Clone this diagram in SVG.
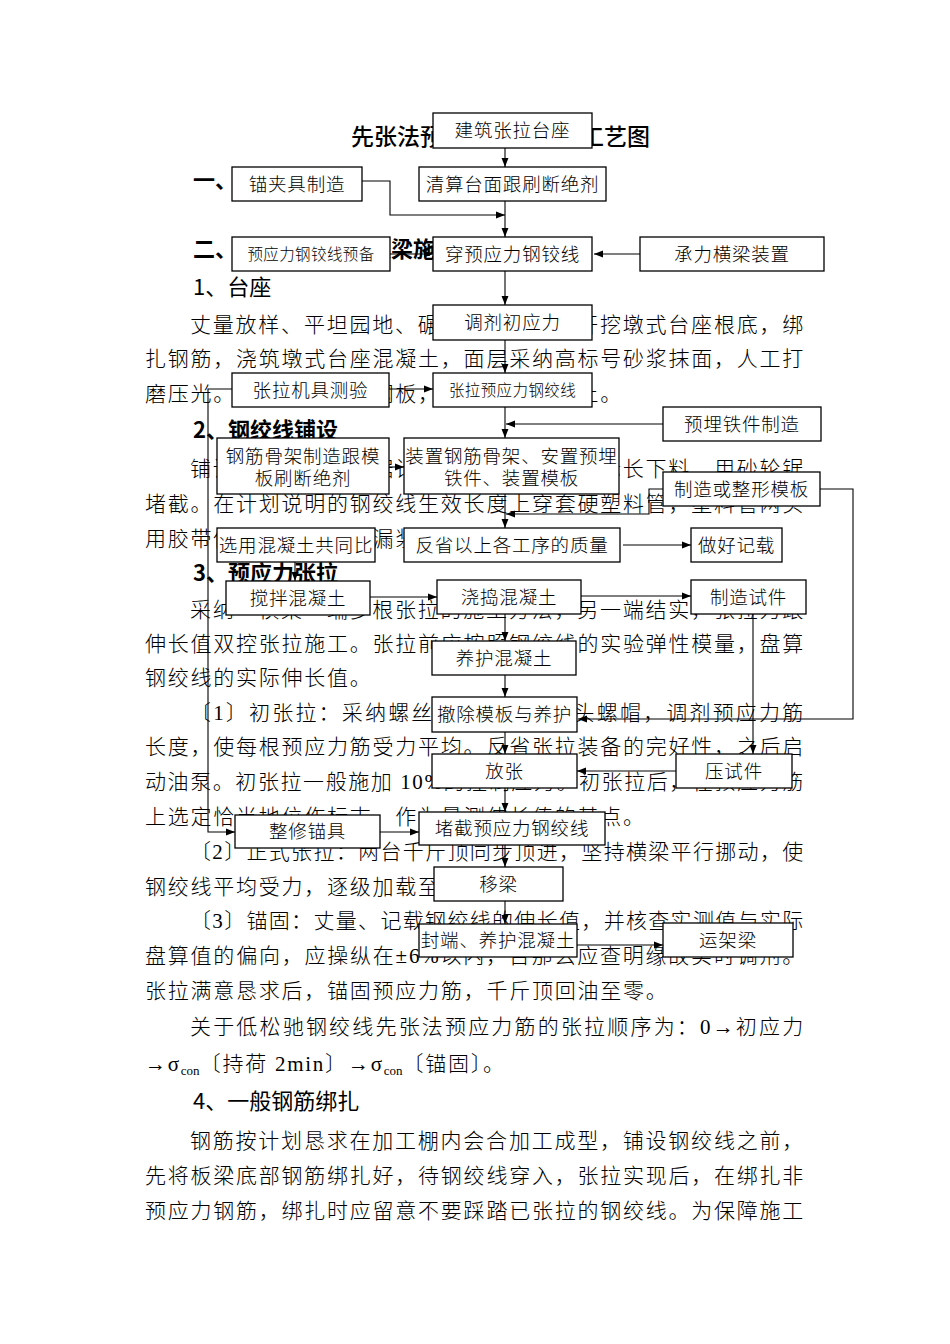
<svg xmlns="http://www.w3.org/2000/svg" width="950" height="1344" viewBox="0 0 950 1344">
<style>
.bg{fill:#fff}
.t{font-family:"Liberation Serif","Noto Sans CJK SC",serif;font-size:21px;letter-spacing:1.76px;fill:#000;font-weight:300}
.h{font-family:"Noto Sans CJK SC","Liberation Sans",sans-serif;font-size:22px;fill:#000;font-weight:bold}
.h1{font-family:"Noto Sans CJK SC","Liberation Sans",sans-serif;font-size:22px;fill:#000;font-weight:normal}
.title{font-family:"Noto Sans CJK SC","Liberation Sans",sans-serif;font-size:23px;fill:#000;font-weight:500}
.box rect{fill:#fff;stroke:#000;stroke-width:1.3}
.box text{font-family:"Liberation Serif","Noto Sans CJK SC",serif;font-size:18.5px;letter-spacing:0.8px;fill:#000;text-anchor:middle;font-weight:300}
.box text.sm{font-size:15.5px;letter-spacing:0.4px}
.c path{fill:none;stroke:#000;stroke-width:1.1}
</style>
<defs>
<marker id="ah" viewBox="0 0 10 10" refX="10" refY="5" markerWidth="9" markerHeight="9" markerUnits="userSpaceOnUse" orient="auto"><path d="M0,1.2 L10,5 L0,8.8 z" fill="#000"/></marker>
</defs>
<rect class="bg" x="0" y="0" width="950" height="1344"/>

<g id="page-text">
<text class="title" x="351" y="145">先张法预应力板梁施工工艺图</text>
<text class="h" x="193" y="188">一、工艺图</text>
<text class="h" x="193" y="257">二、先张法预应力板梁施工</text>
<text class="h1" x="193" y="295">1、台座</text>
<text class="t" x="190" y="332" textLength="615" lengthAdjust="spacing">丈量放样、平坦园地、碾压坚实，然后开挖墩式台座根底，绑</text>
<text class="t" x="145" y="366" textLength="660" lengthAdjust="spacing">扎钢筋，浇筑墩式台座混凝土，面层采纳高标号砂浆抹面，人工打</text>
<text class="t" x="145" y="401">磨压光。台座两端预埋钢板，台面浇筑混凝土。</text>
<text class="h" x="193" y="438">2、钢绞线铺设</text>
<text class="t" x="190" y="476" textLength="615" lengthAdjust="spacing">铺设钢绞线前，依据计划说明的长度按实际长下料，用砂轮锯</text>
<text class="t" x="145" y="511" textLength="660" lengthAdjust="spacing">堵截。在计划说明的钢绞线生效长度上穿套硬塑料管，塑料管两头</text>
<text class="t" x="145" y="546">用胶带做好密封，防止漏浆。</text>
<text class="h" x="193" y="581">3、预应力张拉</text>
<text class="t" x="190" y="617" textLength="615" lengthAdjust="spacing">采纳一横梁一端多根张拉的施工方法，另一端结实，张拉力跟</text>
<text class="t" x="145" y="651" textLength="660" lengthAdjust="spacing">伸长值双控张拉施工。张拉前应按照钢绞线的实验弹性模量，盘算</text>
<text class="t" x="145" y="685">钢绞线的实际伸长值。</text>
<text class="t" x="190" y="720" textLength="615" lengthAdjust="spacing">〔1〕初张拉：采纳螺丝杆拧紧锚具端头螺帽，调剂预应力筋</text>
<text class="t" x="145" y="754" textLength="660" lengthAdjust="spacing">长度，使每根预应力筋受力平均。反省张拉装备的完好性，之后启</text>
<text class="t" x="145" y="789" textLength="660" lengthAdjust="spacing">动油泵。初张拉一般施加 10%的控制应力。初张拉后，在预应力筋</text>
<text class="t" x="145" y="824">上选定恰当地位作标志，作为量测伸长值的基点。</text>
<text class="t" x="190" y="859" textLength="615" lengthAdjust="spacing">〔2〕正式张拉：两台千斤顶同步顶进，坚持横梁平行挪动，使</text>
<text class="t" x="145" y="894">钢绞线平均受力，逐级加载至控制应力。</text>
<text class="t" x="190" y="928" textLength="615" lengthAdjust="spacing">〔3〕锚固：丈量、记载钢绞线的伸长值，并核查实测值与实际</text>
<text class="t" x="145" y="963" textLength="660" lengthAdjust="spacing">盘算值的偏向，应操纵在±6%以内，否那么应查明缘故实时调剂。</text>
<text class="t" x="145" y="998">张拉满意恳求后，锚固预应力筋，千斤顶回油至零。</text>
<text class="t" x="190" y="1034" textLength="615" lengthAdjust="spacing">关于低松驰钢绞线先张法预应力筋的张拉顺序为：0→初应力</text>
<text class="t" x="145" y="1071">→σ<tspan font-size="13" dy="4" letter-spacing="0">con</tspan><tspan dy="-4">〔持荷 2min〕→σ</tspan><tspan font-size="13" dy="4" letter-spacing="0">con</tspan><tspan dy="-4">〔锚固〕。</tspan></text>
<text class="h1" x="193" y="1109">4、一般钢筋绑扎</text>
<text class="t" x="190" y="1148" textLength="615" lengthAdjust="spacing">钢筋按计划恳求在加工棚内会合加工成型，铺设钢绞线之前，</text>
<text class="t" x="145" y="1183" textLength="660" lengthAdjust="spacing">先将板梁底部钢筋绑扎好，待钢绞线穿入，张拉实现后，在绑扎非</text>
<text class="t" x="145" y="1218" textLength="660" lengthAdjust="spacing">预应力钢筋，绑扎时应留意不要踩踏已张拉的钢绞线。为保障施工</text>
</g>

<g id="connectors" class="c">
<path d="M505,148 V167" marker-end="url(#ah)"/>
<path d="M505,201 V237" marker-end="url(#ah)"/>
<path d="M362,181 H390 V215 H505" marker-end="url(#ah)"/>
<path d="M390,254 H433" marker-end="url(#ah)"/>
<path d="M640,254 H594" marker-end="url(#ah)"/>
<path d="M505,271 V305" marker-end="url(#ah)"/>
<path d="M505,340 V373" marker-end="url(#ah)"/>
<path d="M389,389 H433" marker-end="url(#ah)"/>
<path d="M232,389 H208 V832 H235" marker-end="url(#ah)"/>
<path d="M505,407 V438" marker-end="url(#ah)"/>
<path d="M663,424 H506" marker-end="url(#ah)"/>
<path d="M389,467 H404" marker-end="url(#ah)"/>
<path d="M505,494 V528" marker-end="url(#ah)"/>
<path d="M663,489 H649 V514 H506" marker-end="url(#ah)"/>
<path d="M820,489 H853 V719 H578" marker-end="url(#ah)"/>
<path d="M623,545 H691" marker-end="url(#ah)"/>
<path d="M295,562 V581" marker-end="url(#ah)"/>
<path d="M370,597 H437" marker-end="url(#ah)"/>
<path d="M581,596 H691" marker-end="url(#ah)"/>
<path d="M505,613 V641" marker-end="url(#ah)"/>
<path d="M505,675 V697" marker-end="url(#ah)"/>
<path d="M505,732 V754" marker-end="url(#ah)"/>
<path d="M753,614 V754" marker-end="url(#ah)"/>
<path d="M676,771 H577" marker-end="url(#ah)"/>
<path d="M505,788 V812" marker-end="url(#ah)"/>
<path d="M380,832 H419" marker-end="url(#ah)"/>
<path d="M505,845 V867" marker-end="url(#ah)"/>
<path d="M505,901 V924" marker-end="url(#ah)"/>
<path d="M577,945 H663" marker-end="url(#ah)"/>
</g>

<g id="n1" class="box"><rect x="433" y="113" width="159" height="35"/><text x="512.5" y="137">建筑张拉台座</text></g>
<g id="n2" class="box"><rect x="232" y="167" width="130" height="34"/><text x="297" y="190.5">锚夹具制造</text></g>
<g id="n3" class="box"><rect x="419" y="167" width="187" height="34"/><text x="512.5" y="190.5">清算台面跟刷断绝剂</text></g>
<g id="n4" class="box"><rect x="232" y="237" width="158" height="34"/><text class="sm" x="311" y="259.5">预应力钢铰线预备</text></g>
<g id="n5" class="box"><rect x="433" y="237" width="159" height="34"/><text x="512.5" y="260.5">穿预应力钢铰线</text></g>
<g id="n6" class="box"><rect x="640" y="237" width="184" height="34"/><text x="732" y="260.5">承力横梁装置</text></g>
<g id="n7" class="box"><rect x="433" y="305" width="159" height="35"/><text x="512.5" y="329">调剂初应力</text></g>
<g id="n8" class="box"><rect x="232" y="373" width="157" height="34"/><text x="310.5" y="396.5">张拉机具测验</text></g>
<g id="n9" class="box"><rect x="433" y="373" width="159" height="34"/><text class="sm" x="512.5" y="395.5">张拉预应力钢绞线</text></g>
<g id="n10" class="box"><rect x="663" y="407" width="158" height="34"/><text x="742" y="430.5">预埋铁件制造</text></g>
<g id="n11" class="box"><rect x="217" y="438" width="172" height="56"/><text x="303" y="462.5">钢筋骨架制造跟模</text><text x="303" y="485">板刷断绝剂</text></g>
<g id="n12" class="box"><rect x="404" y="438" width="215" height="56"/><text x="511.5" y="462.5">装置钢筋骨架、安置预埋</text><text x="511.5" y="485">铁件、装置模板</text></g>
<g id="n13" class="box"><rect x="663" y="472" width="157" height="34"/><text x="741.5" y="495.5">制造或整形模板</text></g>
<g id="n14" class="box"><rect x="217" y="528" width="158" height="34"/><text x="296" y="551.5">选用混凝土共同比</text></g>
<g id="n15" class="box"><rect x="404" y="528" width="216" height="34"/><text x="512" y="551.5">反省以上各工序的质量</text></g>
<g id="n16" class="box"><rect x="691" y="528" width="91" height="34"/><text x="736.5" y="551.5">做好记载</text></g>
<g id="n17" class="box"><rect x="226" y="581" width="144" height="34"/><text x="298" y="604.5">搅拌混凝土</text></g>
<g id="n18" class="box"><rect x="437" y="580" width="144" height="34"/><text x="509" y="603.5">浇捣混凝土</text></g>
<g id="n19" class="box"><rect x="691" y="580" width="115" height="34"/><text x="748.5" y="603.5">制造试件</text></g>
<g id="n20" class="box"><rect x="432" y="641" width="144" height="34"/><text x="504" y="664.5">养护混凝土</text></g>
<g id="n21" class="box"><rect x="432" y="697" width="145" height="35"/><text x="504.5" y="721">撤除模板与养护</text></g>
<g id="n22" class="box"><rect x="432" y="754" width="145" height="34"/><text x="504.5" y="777.5">放张</text></g>
<g id="n23" class="box"><rect x="676" y="754" width="116" height="34"/><text x="734" y="777.5">压试件</text></g>
<g id="n24" class="box"><rect x="235" y="815" width="145" height="33"/><text x="307.5" y="838">整修锚具</text></g>
<g id="n25" class="box"><rect x="419" y="812" width="186" height="33"/><text x="512" y="835">堵截预应力钢绞线</text></g>
<g id="n26" class="box"><rect x="434" y="867" width="129" height="34"/><text x="498.5" y="890.5">移梁</text></g>
<g id="n27" class="box"><rect x="419" y="924" width="158" height="33"/><text x="498" y="947">封端、养护混凝土</text></g>
<g id="n28" class="box"><rect x="663" y="923" width="130" height="34"/><text x="728" y="946.5">运架梁</text></g>
</svg>
